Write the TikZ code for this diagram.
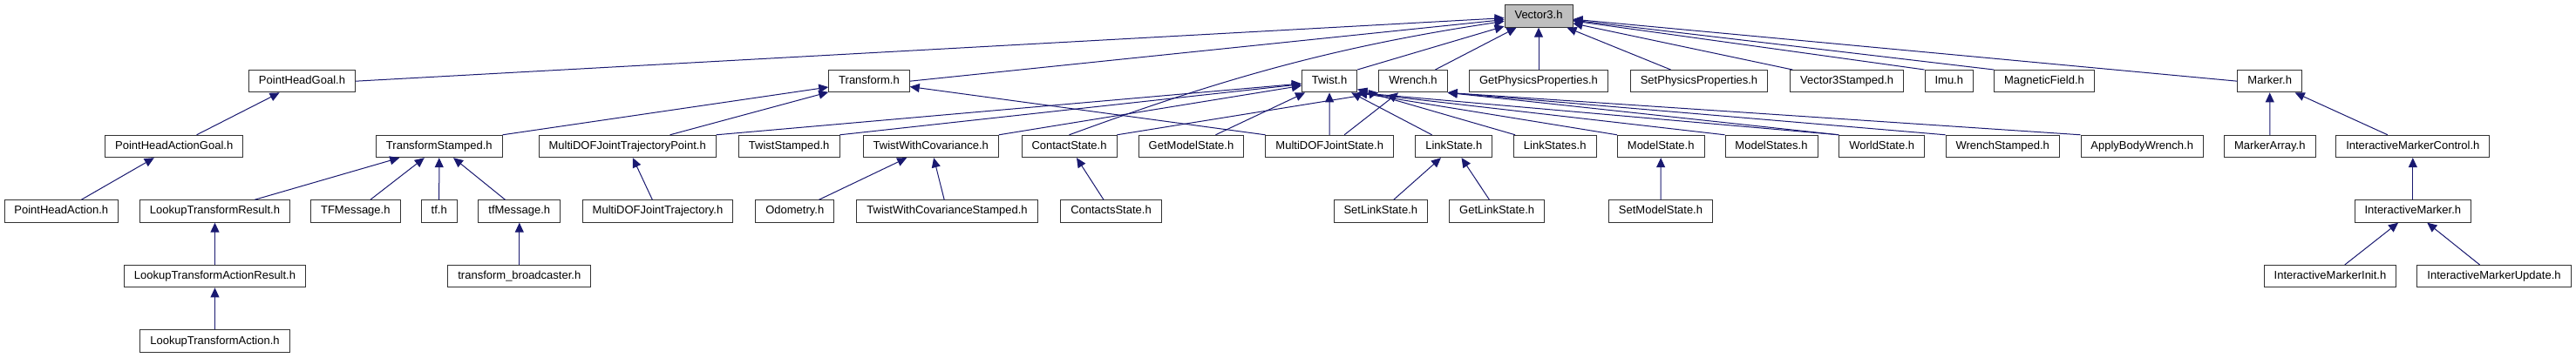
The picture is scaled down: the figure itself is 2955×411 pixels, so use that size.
\documentclass[tikz,border=0pt]{standalone}
\usepackage{fontspec}
\setmainfont{Liberation Sans}
\usepackage{xcolor}
\usetikzlibrary{arrows.meta}
\definecolor{edgeblue}{RGB}{25,25,112}

\begin{document}
\begin{tikzpicture}[x=1pt, y=-1pt,
  hdr/.style={rectangle, draw=black!80, line width=0.9pt, fill=white, font=\fontsize{13}{15}\selectfont, minimum height=25.5pt, inner xsep=11.5pt, inner ysep=2pt, text height=9.5pt, text depth=2.5pt},
  cur/.style={hdr, fill=black!25},
  dep/.style={draw=edgeblue, line width=1pt, -{Triangle[length=11pt,width=10pt]}}
]
  \useasboundingbox (0,0) rectangle (2955,411);

  \node[cur] (Vector3) at (1765,18.5) {Vector3.h};

  \node[hdr] (PointHeadGoal) at (346.5,93.2) {PointHeadGoal.h};
  \node[hdr] (Transform) at (997,93.2) {Transform.h};
  \node[hdr] (Twist) at (1525,93.2) {Twist.h};
  \node[hdr] (Wrench) at (1621,93.2) {Wrench.h};
  \node[hdr] (GetPhysProps) at (1765,93.2) {GetPhysicsProperties.h};
  \node[hdr] (SetPhysProps) at (1949,93.2) {SetPhysicsProperties.h};
  \node[hdr] (Vector3Stamped) at (2118.7,93.2) {Vector3Stamped.h};
  \node[hdr] (Imu) at (2235.8,93.2) {Imu.h};
  \node[hdr] (MagField) at (2345,93.2) {MagneticField.h};
  \node[hdr] (Marker) at (2603.7,93.2) {Marker.h};

  \node[hdr] (PHActionGoal) at (199.7,168) {PointHeadActionGoal.h};
  \node[hdr] (TransformStamped) at (503.8,168) {TransformStamped.h};
  \node[hdr] (MDJTPoint) at (719.7,168) {MultiDOFJointTrajectoryPoint.h};
  \node[hdr] (TwistStamped) at (905.2,168) {TwistStamped.h};
  \node[hdr] (TwistWithCov) at (1067.8,168) {TwistWithCovariance.h};
  \node[hdr] (ContactState) at (1226.5,168) {ContactState.h};
  \node[hdr] (GetModelState) at (1366.5,168) {GetModelState.h};
  \node[hdr] (MDJState) at (1525.2,168) {MultiDOFJointState.h};
  \node[hdr] (LinkState) at (1667.8,168) {LinkState.h};
  \node[hdr] (LinkStates) at (1783.7,168) {LinkStates.h};
  \node[hdr] (ModelState) at (1905.2,168) {ModelState.h};
  \node[hdr] (ModelStates) at (2032,168) {ModelStates.h};
  \node[hdr] (WorldState) at (2158.7,168) {WorldState.h};
  \node[hdr] (WrenchStamped) at (2297.2,168) {WrenchStamped.h};
  \node[hdr] (ApplyBodyWrench) at (2457.2,168) {ApplyBodyWrench.h};
  \node[hdr] (MarkerArray) at (2603.8,168) {MarkerArray.h};
  \node[hdr] (IMControl) at (2767.8,168) {InteractiveMarkerControl.h};

  \node[hdr] (PHAction) at (70.3,242.5) {PointHeadAction.h};
  \node[hdr] (LTResult) at (246.5,242.5) {LookupTransformResult.h};
  \node[hdr] (TFMsg) at (407.8,242.5) {TFMessage.h};
  \node[hdr] (tf) at (503.7,242.5) {tf.h};
  \node[hdr] (tfMsg) at (595.8,242.5) {tfMessage.h};
  \node[hdr] (MDJTrajectory) at (754.5,242.5) {MultiDOFJointTrajectory.h};
  \node[hdr] (Odometry) at (911.8,242.5) {Odometry.h};
  \node[hdr] (TwistWithCovStamped) at (1086.5,242.5) {TwistWithCovarianceStamped.h};
  \node[hdr] (ContactsState) at (1274.5,242.5) {ContactsState.h};
  \node[hdr] (SetLinkState) at (1583.8,242.5) {SetLinkState.h};
  \node[hdr] (GetLinkState) at (1717.2,242.5) {GetLinkState.h};
  \node[hdr] (SetModelState) at (1905,242.5) {SetModelState.h};
  \node[hdr] (IMarker) at (2767.8,242.5) {InteractiveMarker.h};

  \node[hdr] (LTActionResult) at (246.5,317.2) {LookupTransformActionResult.h};
  \node[hdr] (TfBroadcaster) at (595.8,317.2) {transform\_broadcaster.h};
  \node[hdr] (IMInit) at (2673,317.2) {InteractiveMarkerInit.h};
  \node[hdr] (IMUpdate) at (2861,317.2) {InteractiveMarkerUpdate.h};

  \node[hdr] (LTAction) at (246.5,391.7) {LookupTransformAction.h};

  \draw[dep] (PointHeadGoal.east) -- (Vector3);
  \draw[dep] (Transform.east) -- (Vector3);
  \draw[dep] (ContactState.north) .. controls (1390,95) and (1520,55) .. (Vector3);
  \draw[dep] (Twist.north east) -- (Vector3);
  \draw[dep] (Wrench) -- (Vector3);
  \draw[dep] (GetPhysProps) -- (Vector3);
  \draw[dep] (SetPhysProps) -- (Vector3);
  \draw[dep] (Vector3Stamped) -- (Vector3);
  \draw[dep] (Imu.north west) -- (Vector3);
  \draw[dep] (MagField.north west) -- (Vector3);
  \draw[dep] (Marker.west) -- (Vector3);

  \draw[dep] (PHActionGoal) -- (PointHeadGoal);
  \draw[dep] (PHAction) -- (PHActionGoal);

  \draw[dep] (TransformStamped.north east) -- (Transform);
  \draw[dep] (MDJTPoint) -- (Transform);
  \draw[dep] (MDJState.north west) -- (Transform);

  \draw[dep] (MDJTPoint.north east) -- (Twist);
  \draw[dep] (TwistStamped.north east) -- (Twist);
  \draw[dep] (TwistWithCov.north east) -- (Twist);
  \draw[dep] (GetModelState) -- (Twist);
  \draw[dep] (MDJState) -- (Twist);
  \draw[dep] (LinkState) -- (Twist);
  \draw[dep] (LinkStates) -- (Twist);
  \draw[dep] (ModelState.north west) -- (Twist.south east);
  \draw[dep] (ModelStates.north west) -- (Twist.south east);
  \draw[dep] (WorldState.north west) -- (Twist.south east);

  \draw[dep] (ContactState.north east) -- (Wrench.south west);
  \draw[dep] (MDJState) -- (Wrench);
  \draw[dep] (WorldState.north west) -- (Wrench.south east);
  \draw[dep] (WrenchStamped.north west) -- (Wrench.south east);
  \draw[dep] (ApplyBodyWrench.north west) -- (Wrench.south east);

  \draw[dep] (LTResult) -- (TransformStamped);
  \draw[dep] (TFMsg) -- (TransformStamped);
  \draw[dep] (tf) -- (TransformStamped);
  \draw[dep] (tfMsg) -- (TransformStamped);
  \draw[dep] (TfBroadcaster) -- (tfMsg);
  \draw[dep] (LTActionResult) -- (LTResult);
  \draw[dep] (LTAction) -- (LTActionResult);

  \draw[dep] (MDJTrajectory) -- (MDJTPoint);
  \draw[dep] (Odometry) -- (TwistWithCov);
  \draw[dep] (TwistWithCovStamped) -- (TwistWithCov);
  \draw[dep] (ContactsState) -- (ContactState);
  \draw[dep] (SetLinkState) -- (LinkState);
  \draw[dep] (GetLinkState) -- (LinkState);
  \draw[dep] (SetModelState) -- (ModelState);

  \draw[dep] (MarkerArray) -- (Marker);
  \draw[dep] (IMControl) -- (Marker);
  \draw[dep] (IMarker) -- (IMControl);
  \draw[dep] (IMInit) -- (IMarker);
  \draw[dep] (IMUpdate) -- (IMarker);
\end{tikzpicture}
\end{document}
